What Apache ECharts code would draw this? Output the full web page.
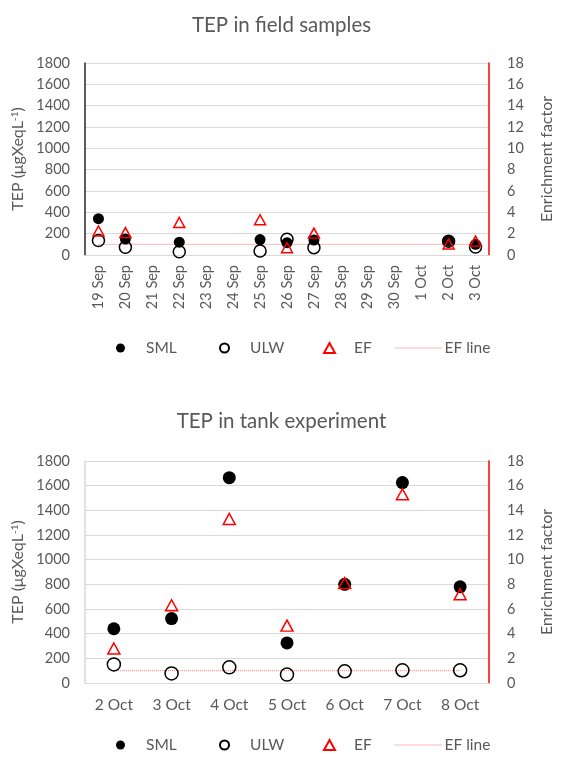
<!DOCTYPE html>
<html>
<head>
<meta charset="utf-8">
<script src="https://cdn.jsdelivr.net/npm/echarts@6/dist/echarts.min.js"></script>
<style>
html,body{margin:0;padding:0;background:#fff;}
#c{width:563px;height:766px;}
</style>
</head>
<body>
<div id="c"></div>
<script>
// ---- Field samples ----
const fieldDates = ['19 Sep','20 Sep','21 Sep','22 Sep','23 Sep','24 Sep','25 Sep','26 Sep','27 Sep','28 Sep','29 Sep','30 Sep','1 Oct','2 Oct','3 Oct'];
const fieldSML = [340,150,null,120,null,null,145,115,140,null,null,null,null,130,100];
const fieldULW = [135,72,null,30,null,null,37,147,69,null,null,null,null,128,75];
const fieldEF  = [2.25,2.1,null,3.05,null,null,3.3,0.68,2.05,null,null,null,null,1.03,1.3];
const fieldEFLine = [['19 Sep',1],['3 Oct',1]];

// ---- Tank experiment ----
const tankDates = ['2 Oct','3 Oct','4 Oct','5 Oct','6 Oct','7 Oct','8 Oct'];
const tankSML = [440,522,1665,325,800,1625,780];
const tankULW = [151,78,127,68,95,103,103];
const tankEF  = [2.8,6.3,13.3,4.65,8.1,15.3,7.2];
const tankEFLine = [['2 Oct',1],['8 Oct',1]];

const leftTicks = {min:0,max:1800,interval:200};
const rightTicks = {min:0,max:18,interval:2};

const FONT = 'Lato';
const TXT = '#595959';
const GRID = '#d9d9d9';
const EFLINE = '#ff7070';

const chart = echarts.init(document.getElementById('c'), null, {renderer:'canvas'});

function yLeft(gridIndex, axisColor){
  return {
    type:'value', gridIndex, min:leftTicks.min, max:leftTicks.max, interval:leftTicks.interval,
    position:'left',
    name:'TEP (μgXeqL{sup|-1})', nameLocation:'middle', nameRotate:90, nameGap:56,
    nameTextStyle:{color:TXT,fontFamily:FONT,fontSize:16,
      rich:{sup:{fontSize:10,verticalAlign:'top',color:TXT,fontFamily:FONT,padding:[0,0,6,0]}}},
    axisLine:{show:true,lineStyle:{color:axisColor,width:1.5}},
    axisTick:{show:false},
    axisLabel:{color:TXT,fontFamily:FONT,fontSize:14.5,margin:15,formatter:v=>String(v)},
    splitLine:{show:true,lineStyle:{color:GRID,width:1}}
  };
}
function yRight(gridIndex){
  return {
    type:'value', gridIndex, min:rightTicks.min, max:rightTicks.max, interval:rightTicks.interval,
    position:'right',
    name:'Enrichment factor', nameLocation:'middle', nameRotate:90, nameGap:50,
    nameTextStyle:{color:TXT,fontFamily:FONT,fontSize:16},
    axisLine:{show:true,lineStyle:{color:'#ff0000',width:1.5}},
    axisTick:{show:false},
    axisLabel:{color:TXT,fontFamily:FONT,fontSize:14.5,margin:18,formatter:v=>String(v)},
    splitLine:{show:false}
  };
}

const smlStyle = {color:'#000000',opacity:1};
const ulwStyle = {color:'rgba(0,0,0,0)',borderColor:'#000000',borderWidth:1.5,opacity:1};
const efStyle  = {color:'rgba(0,0,0,0)',borderColor:'#ff0000',borderWidth:1.5,opacity:1};

function legendItem(name, left, top, extra){
  return Object.assign({
    data:[name], left, top, orient:'horizontal',
    itemWidth:9, itemHeight:9,
    textStyle:{color:TXT,fontFamily:FONT,fontSize:15.5,padding:[0,0,0,16]},
    selectedMode:false
  }, extra||{});
}
function lineLegend(top){
  return legendItem('EF line',389,top,{
    itemWidth:48,itemHeight:10,
    itemStyle:{opacity:0},
    lineStyle:{color:EFLINE,width:1,type:[1,1],opacity:1},
    textStyle:{color:TXT,fontFamily:FONT,fontSize:15.5,padding:[0,0,0,-3]}
  });
}
function efLegend(top){
  return legendItem('EF',318,top,{itemWidth:11,itemHeight:10,
    textStyle:{color:TXT,fontFamily:FONT,fontSize:15.5,padding:[0,0,0,14]}});
}

const option = {
  animation:false,
  backgroundColor:'#ffffff',
  title:[
    {text:'TEP in field samples',left:'center',top:10,
     textStyle:{color:TXT,fontFamily:FONT,fontSize:20.5,fontWeight:'normal'}},
    {text:'TEP in tank experiment',left:'center',top:406,
     textStyle:{color:TXT,fontFamily:FONT,fontSize:20.5,fontWeight:'normal'}}
  ],
  grid:[
    {left:85,right:60,top:63,height:192,containLabel:false},
    {left:85,right:60,top:461,height:222,containLabel:false}
  ],
  xAxis:[
    {type:'category',gridIndex:0,data:fieldDates,boundaryGap:true,
     axisLine:{show:true,lineStyle:{color:GRID,width:1}},axisTick:{show:false},
     axisLabel:{color:TXT,fontFamily:FONT,fontSize:14.5,rotate:90,interval:0,margin:10},
     splitLine:{show:false}},
    {type:'category',gridIndex:1,data:tankDates,boundaryGap:true,
     axisLine:{show:true,lineStyle:{color:GRID,width:1}},axisTick:{show:false},
     axisLabel:{color:TXT,fontFamily:FONT,fontSize:15.5,interval:0,margin:14},
     splitLine:{show:false}}
  ],
  yAxis:[
    yLeft(0,'#262626'), yRight(0),
    yLeft(1,GRID), yRight(1)
  ],
  legend:[
    legendItem('SML',111,335),
    legendItem('ULW',214,335),
    efLegend(335),
    lineLegend(335),
    legendItem('SML',111,732),
    legendItem('ULW',214,732),
    efLegend(732),
    lineLegend(732)
  ],
  series:[
    {name:'EF line',type:'line',xAxisIndex:0,yAxisIndex:1,data:fieldEFLine,symbol:'none',
     lineStyle:{color:EFLINE,width:1,type:[1,1]},itemStyle:{color:EFLINE},z:1},
    {name:'SML',type:'scatter',xAxisIndex:0,yAxisIndex:0,data:fieldSML,symbol:'circle',symbolSize:11,itemStyle:smlStyle,z:2},
    {name:'ULW',type:'scatter',xAxisIndex:0,yAxisIndex:0,data:fieldULW,symbol:'circle',symbolSize:12,itemStyle:ulwStyle,z:3},
    {name:'EF',type:'scatter',xAxisIndex:0,yAxisIndex:1,data:fieldEF,symbol:'triangle',symbolSize:[11,10],itemStyle:efStyle,z:4},

    {name:'EF line',type:'line',xAxisIndex:1,yAxisIndex:3,data:tankEFLine,symbol:'none',
     lineStyle:{color:EFLINE,width:1,type:[1,1]},itemStyle:{color:EFLINE},z:1},
    {name:'SML',type:'scatter',xAxisIndex:1,yAxisIndex:2,data:tankSML,symbol:'circle',symbolSize:13,itemStyle:smlStyle,z:2},
    {name:'ULW',type:'scatter',xAxisIndex:1,yAxisIndex:2,data:tankULW,symbol:'circle',symbolSize:13,itemStyle:ulwStyle,z:3},
    {name:'EF',type:'scatter',xAxisIndex:1,yAxisIndex:3,data:tankEF,symbol:'triangle',symbolSize:[12,11],itemStyle:efStyle,z:4}
  ]
};
chart.setOption(option);
</script>
</body>
</html>
